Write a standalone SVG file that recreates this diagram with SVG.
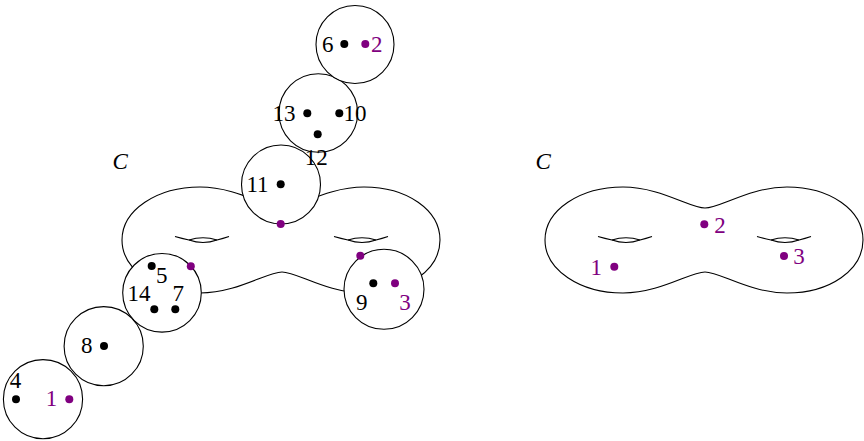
<svg xmlns="http://www.w3.org/2000/svg" width="864" height="441" viewBox="0 0 864 441">
<defs>
<style>
.s{fill:none;stroke:#000;stroke-width:1.1}
.c{fill:#fff;stroke:#000;stroke-width:1.1}
.d{fill:#000}
.p{fill:#800080}
text{font-family:"Liberation Serif","Times New Roman",serif;font-size:23px;fill:#000}
text.pt{fill:#800080}
text.it{font-style:italic}
</style>
<path id="surf" d="M705,208 C690,208 660,187 623,187 C580,187 545,210 545,240 C545,270 580,293 623,293 C660,293 690,272 705,272 C720,272 750,293 787,293 C830,293 863,270 863,240 C863,210 830,187 787,187 C750,187 720,208 705,208Z"/>
<g id="hole">
<path d="M598,236.5 Q605,238.5 612,240 Q626,245 640,240 Q646,238.5 652,236.5"/>
<path d="M612,240 Q626,235.5 640,240"/>
</g>
</defs>

<g id="left-surface">
<use href="#surf" class="s" transform="translate(-423,0)"/>
<use href="#hole" class="s" transform="translate(-423,0)"/>
<use href="#hole" class="s" transform="translate(-264,0)"/>
<text class="it" x="112.5" y="169">C</text>
</g>

<g id="right-surface">
<use href="#surf" class="s"/>
<use href="#hole" class="s"/>
<use href="#hole" class="s" transform="translate(159,0)"/>
<text class="it" x="535.5" y="169">C</text>
<circle class="p" cx="614.3" cy="266.7" r="4"/>
<text class="pt" x="590.4" y="275">1</text>
<circle class="p" cx="704.3" cy="224.3" r="4"/>
<text class="pt" x="714.3" y="232.7">2</text>
<circle class="p" cx="784" cy="256" r="4"/>
<text class="pt" x="793.3" y="264">3</text>
</g>

<g id="node-11">
<circle class="c" cx="281" cy="184.5" r="39.5"/>
<circle class="d" cx="280.7" cy="184.3" r="4"/>
<circle class="p" cx="280.7" cy="224" r="4"/>
<text x="246.4" y="192">11</text>
</g>

<g id="node-13-10-12">
<circle class="c" cx="318.3" cy="113" r="39.3"/>
<circle class="d" cx="307.3" cy="113.3" r="4"/>
<circle class="d" cx="339.3" cy="113.3" r="4"/>
<circle class="d" cx="317.7" cy="134.3" r="4"/>
<text x="272.4" y="120.7">13</text>
<text x="343.4" y="120.7">10</text>
<text x="304.7" y="165">12</text>
</g>

<g id="node-6-2">
<circle class="c" cx="355" cy="44.5" r="39"/>
<circle class="d" cx="344.3" cy="44" r="4"/>
<circle class="p" cx="365.3" cy="44" r="4"/>
<text x="322" y="52.3">6</text>
<text class="pt" x="371" y="52.3">2</text>
</g>

<g id="node-9-3">
<circle class="c" cx="384" cy="289.3" r="40"/>
<circle class="p" cx="360.3" cy="255.8" r="4"/>
<circle class="d" cx="373.3" cy="283.3" r="4"/>
<circle class="p" cx="395" cy="283.3" r="4"/>
<text x="356" y="310">9</text>
<text class="pt" x="399.3" y="310">3</text>
</g>

<g id="node-5-14-7">
<circle class="c" cx="162" cy="292.8" r="39.3"/>
<circle class="d" cx="151.7" cy="266" r="4"/>
<circle class="p" cx="190.8" cy="266.3" r="4"/>
<circle class="d" cx="154.3" cy="309.3" r="4"/>
<circle class="d" cx="175.3" cy="309.3" r="4"/>
<text x="156" y="282.7">5</text>
<text x="127.4" y="300.5">14</text>
<text x="172.4" y="300.5">7</text>
</g>

<g id="node-8">
<circle class="c" cx="103.7" cy="346.2" r="39.6"/>
<circle class="d" cx="104" cy="346" r="4"/>
<text x="81" y="353.3">8</text>
</g>

<g id="node-4-1">
<circle class="c" cx="43" cy="399.2" r="39.6"/>
<circle class="d" cx="16" cy="399.3" r="4"/>
<circle class="p" cx="69.3" cy="399.3" r="4"/>
<text x="9.7" y="388.3">4</text>
<text class="pt" x="45.7" y="406">1</text>
</g>

<g id="connectors"></g>
</svg>
